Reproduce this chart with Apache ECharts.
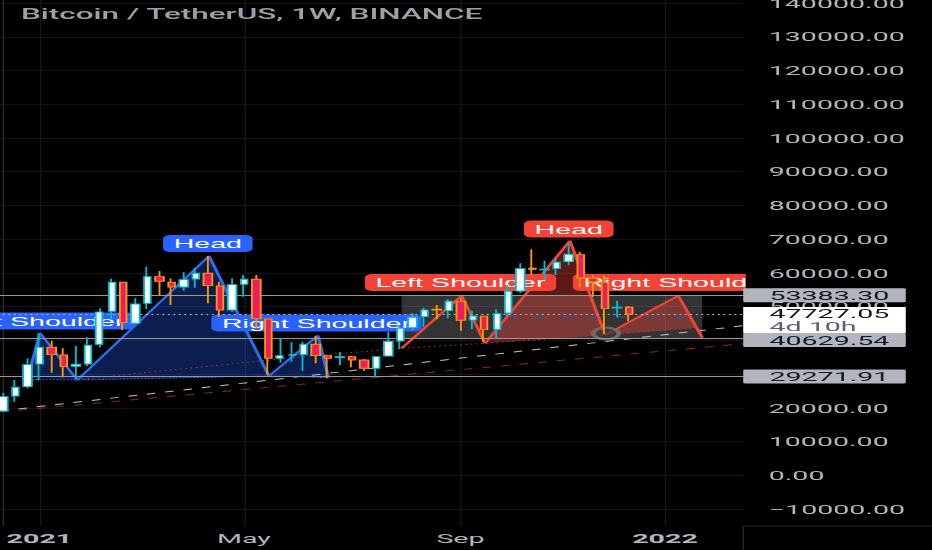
<!DOCTYPE html>
<html>
<head>
<meta charset="utf-8">
<style>
html,body{margin:0;padding:0;background:#000;width:932px;height:550px;overflow:hidden}
#chart{width:423.64px;height:550px;transform:scaleX(2.2);transform-origin:0 0}
</style>
<script src="https://cdn.jsdelivr.net/npm/echarts@6/dist/echarts.min.js"></script>
</head>
<body>
<div id="chart"></div>
<script>
const weeks = ['2020-12-14','2020-12-21','2020-12-28','2021-01-04','2021-01-11','2021-01-18','2021-01-25','2021-02-01','2021-02-08','2021-02-15','2021-02-22','2021-03-01','2021-03-08','2021-03-15','2021-03-22','2021-03-29','2021-04-05','2021-04-12','2021-04-19','2021-04-26','2021-05-03','2021-05-10','2021-05-17','2021-05-24','2021-05-31','2021-06-07','2021-06-14','2021-06-21','2021-06-28','2021-07-05','2021-07-12','2021-07-19','2021-07-26','2021-08-02','2021-08-09','2021-08-16','2021-08-23','2021-08-30','2021-09-06','2021-09-13','2021-09-20','2021-09-27','2021-10-04','2021-10-11','2021-10-18','2021-10-25','2021-11-01','2021-11-08','2021-11-15','2021-11-22','2021-11-29','2021-12-06','2021-12-13','2021-12-20','2021-12-27','2022-01-03','2022-01-10','2022-01-17','2022-01-24','2022-01-31','2022-02-07','2022-02-14'];
const opens = [19065,23512,26270,33000,37952,35669,32319,33000,38842,48626,57225,45068,50998,58885,57225,55831,58203,59893,56127,49011,56632,58114,46343,34691,35580,35758,38842,35461,34868,35165,34186,31726,35372,39820,43763,47025,49219,48804,51591,46046,47144,43289,48122,54645,61376,60871,61257,63332,65408,58499,57106,49604,49812];
const closes = [23305,26092,32793,37952,35758,32200,32912,38545,48418,57225,45246,50790,58885,57521,55831,57995,59893,56216,49011,56513,58114,46432,34691,35461,35758,38842,35461,34691,35165,34186,31726,35165,39731,43586,46847,49011,49011,51591,45958,47232,43170,47914,54556,61257,61079,61079,63155,65527,58499,57313,49397,49812,47737];
const lows = [18768,21822,25796,28256,30421,29057,28761,32407,37952,46046,43081,44860,49219,53459,50494,54734,55623,50998,47025,48507,52955,43586,29739,33386,33682,31014,33208,28761,32704,32022,31014,29235,35165,37448,42874,43882,46254,46550,42874,43289,39612,40621,47232,53963,59389,57906,59389,62354,55742,52955,41895,46847,45750];
const highs = [24402,28256,34691,42103,39909,37656,38337,40917,49516,58292,57402,52481,61850,60575,58411,60190,61376,65022,57402,58411,59389,59389,46432,40621,39435,39612,41302,35669,36470,35372,34483,35372,42577,44564,48033,49693,50494,52184,52481,48804,47321,49219,56424,62858,67009,63629,64341,68788,66297,59389,59092,51769,50197];
const yTicks = [-10000,0,10000,20000,30000,40000,50000,60000,70000,80000,90000,100000,110000,120000,130000,140000];
const xTickLabels = {'2021-01-04':'{b|2021}','2021-05-03':'May','2021-09-06':'Sep','2022-01-03':'{b|2022}'};
const gridWeeks = [3,20,38,55];
const title = 'Bitcoin / TetherUS, 1W, BINANCE';
const levels = [53383.30,40629.54,29271.91];
const lastPrice = 47727.05;
const countdown = '4d 10h';
const bluePath = [[2.05,29146],[3.05,42192],[6.15,28256],[17.1,65022],[22.08,29442],[26.16,41451],[27.02,28938]];
const redPath = [[33.1,37656],[38.1,53251],[40.04,39138],[47.1,69559],[50.02,41599],[56.1,53251],[58.1,40798]];
const blueNeck = [[2.05,28438],[6.15,28256],[22.08,29442],[27.02,28938]];
const neckDotted = [[6.13,28405],[24.66,35076],[33.1,37656],[40.04,39138],[50.02,41599],[57.5,43675]];
const blueFills = [[2.05,29146,3.05,42192,6.15,28256],[6.15,28256,17.1,65022,22.08,29442],[22.08,29442,26.16,41451,27.02,28938]];
const redFills = [[40.04,39138,47.1,69559,50.02,41599],[50.02,41599,56.1,53251,57.5,43675]];
const whiteTrend = [[-0.27,19065],[61.5,44356]];
const redTrend = [[-0.27,18768],[61.5,39019]];
const blueDash = [[41.7,46936],[58.1,46936]];
const boxRange = [[33.1,53383.30],[58.1,40629.54]];
const ringMark = [[50.1,42044]];
const blueLabels = [['Left Shoulder',3.0,45750],['Head',17.0,68729],['Right Shoulder',26.03,45157]];
const redLabels = [['Left Shoulder',38.0,57165],['Head',47.0,73028],['Right Shoulder',56.08,57165]];

const S = 2.2;
const BLUE = '#2962ff', RED = '#f44336';
const FONT = 'Roboto';
const candles = opens.map((o,i)=>[o,closes[i],lows[i],highs[i]]);

function fillSeries(data,color){
  return {type:'custom',xAxisIndex:1,yAxisIndex:0,z:2,silent:true,data,
    encode:{x:[0,2,4],y:[1,3,5]},
    renderItem:(p,api)=>({type:'polygon',shape:{points:[api.coord([api.value(0),api.value(1)]),api.coord([api.value(2),api.value(3)]),api.coord([api.value(4),api.value(5)])]},style:{fill:color}})};
}
function lineSeries(data,color,width,dash,z){
  return {type:'line',xAxisIndex:1,yAxisIndex:0,data,symbol:'none',silent:true,z:z||3,
    lineStyle:{color,width,type:dash||'solid'}};
}
function labelSeries(data,color){
  return {type:'custom',xAxisIndex:1,yAxisIndex:0,z:4.5,silent:true,clip:true,
    data:data.map(d=>[d[1],d[2]]),
    encode:{x:0,y:1},
    renderItem:(p,api)=>{
      const c=api.coord([api.value(0),api.value(1)]);
      const t=data[p.dataIndex][0];
      const w=echarts.format.getTextRect?echarts.format.getTextRect(t,'13px "Liberation Sans"').width+9.6:88/S;
      const h=17;
      return {type:'group',x:c[0],y:c[1],children:[
        {type:'rect',shape:{x:-w/2,y:-h/2,width:w,height:h,r:3.5},style:{fill:color}},
        {type:'text',style:{x:0,y:0.5,text:t,fill:'#fff',font:'13px "Liberation Sans"',align:'center',verticalAlign:'middle'}}
      ]};
    }};
}
function tag(v,dy){
  return {yAxis:v,lineStyle:{color:'#9a9a9a',width:1.2,type:'solid'},
    label:{show:true,position:'end',distance:0,align:'left',verticalAlign:'middle',offset:[0,dy],formatter:v.toFixed(2),
      backgroundColor:'#b2b5be',borderRadius:1,color:'#131722',fontFamily:FONT,fontSize:13,
      width:62,height:14,lineHeight:14,padding:[0,0,0,11.9]}};
}
const chart = echarts.init(document.getElementById('chart'),null,{renderer:'svg',width:423.64,height:550});
chart.setOption({
  animation:false,
  backgroundColor:'#000',
  title:{text:title,left:21/S,top:7,padding:0,textStyle:{color:'#9ea1aa',fontFamily:FONT,fontSize:14.3,fontWeight:500}},
  grid:{left:-1.227,top:-0.3,width:339.05,height:526.2,outerBoundsMode:'none',containLabel:false},
  xAxis:[
    {type:'category',data:weeks,boundaryGap:true,axisLine:{show:true,lineStyle:{color:'#222'}},axisTick:{show:false},splitLine:{show:false},
      axisLabel:{interval:0,margin:6,color:'#b2b5be',fontFamily:FONT,fontSize:13,formatter:v=>xTickLabels[v]||'',
        rich:{b:{fontWeight:'bold',color:'#b2b5be',fontFamily:FONT,fontSize:13}}}},
    {type:'value',min:-0.5,max:61.5,position:'bottom',axisLine:{show:false},axisLabel:{show:false},
      axisTick:{show:false,customValues:gridWeeks},splitLine:{show:true,lineStyle:{color:'#181818',width:0.6}}}
  ],
  yAxis:[{type:'value',position:'right',min:-15000,max:141000,z:1,
    axisLine:{show:true,lineStyle:{color:'#2a2a2a',width:0.6}},
    axisTick:{show:false,customValues:yTicks},
    splitLine:{show:true,lineStyle:{color:'#141414',width:1}},
    axisLabel:{customValues:yTicks,margin:11.6,color:'#b2b5be',fontFamily:FONT,fontSize:13,
      formatter:v=>v.toFixed(2).replace('-','\u2212')}}],
  graphic:[
    {type:'line',z:1,shape:{x1:743.2/S,y1:526,x2:743.2/S,y2:550},style:{stroke:'#2a2a2a',lineWidth:0.6}},
    {type:'line',z:1,shape:{x1:743.2/S,y1:526,x2:932/S,y2:526},style:{stroke:'#222',lineWidth:1}}
  ],
  series:[
    {type:'line',xAxisIndex:1,yAxisIndex:0,data:[],symbol:'none',z:1.5,silent:true,
      markArea:{silent:true,itemStyle:{color:'rgba(255,255,255,0.2)'},
        data:[[{coord:boxRange[0]},{coord:boxRange[1]}]]}},
    fillSeries(blueFills,'rgba(41,98,255,0.3)'),
    fillSeries(redFills,'rgba(244,67,54,0.38)'),
    lineSeries(whiteTrend,'#bdbdbd',1,[4,4.6]),
    lineSeries(redTrend,'#8e2222',1,[4,4.6]),
    lineSeries(blueNeck,BLUE,0.9,[1,0.6]),
    lineSeries(neckDotted,'#a03a2a',1,[0.8,1.6]),
    lineSeries(blueDash,'#1f58b8',1,[6,6.7]),
    {type:'line',xAxisIndex:1,yAxisIndex:0,data:[],symbol:'none',z:3,silent:true,
      markLine:{silent:true,symbol:'none',animation:false,clip:false,precision:2,
        data:[tag(levels[0],0),tag(levels[1],1.7),tag(levels[2],0)]}},
    {type:'scatter',xAxisIndex:1,yAxisIndex:0,data:ringMark,symbol:'circle',symbolSize:11.5,z:4,silent:true,
      itemStyle:{color:'rgba(55,55,55,0.85)',borderColor:'#777',borderWidth:2.2}},
    lineSeries(bluePath,'#2f6bea',1.5),
    lineSeries(redPath,RED,1.5),
    {type:'candlestick',xAxisIndex:0,yAxisIndex:0,data:candles,barWidth:3.9,z:5,silent:true,
      itemStyle:{color:'#fff',color0:'#e91e63',borderColor:'#00bcd4',borderColor0:'#ff9800',borderWidth:0.85}},
    {type:'line',xAxisIndex:1,yAxisIndex:0,data:[],symbol:'none',z:6,silent:true,
      markLine:{silent:true,symbol:'none',animation:false,clip:false,
        data:[{yAxis:lastPrice,lineStyle:{color:'#b8b8b8',width:1,type:[0.9,1.6]},
          label:{show:true,position:'end',distance:0,align:'left',verticalAlign:'middle',offset:[0,5.7],
            formatter:'{a|'+lastPrice.toFixed(2)+'}\n{b|'+countdown+'}',
            backgroundColor:'#fff',width:62,height:26,padding:[0,0,0,11.9],
            rich:{a:{color:'#131722',fontFamily:FONT,fontSize:13,lineHeight:13},
                  b:{color:'#5d606b',fontFamily:FONT,fontSize:13,lineHeight:13}}}}]}},
    labelSeries(blueLabels,BLUE),
    labelSeries(redLabels,RED)
  ]
});
</script>
</body>
</html>
